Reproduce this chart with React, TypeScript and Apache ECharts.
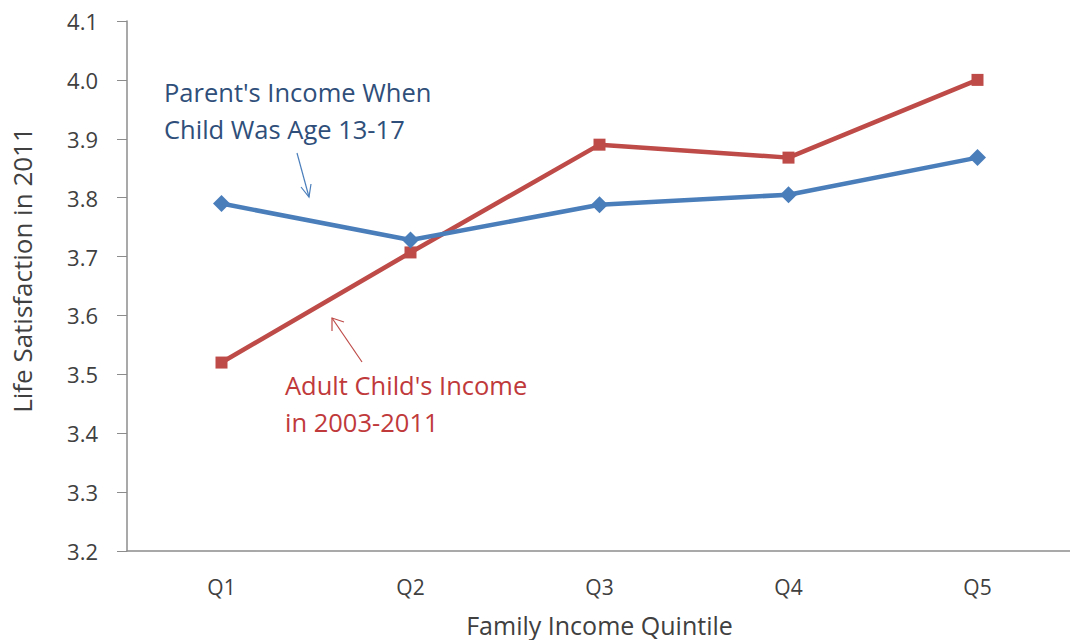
import React, { useEffect, useRef } from "react";
import * as echarts from "echarts";

const categories = ["Q1", "Q2", "Q3", "Q4", "Q5"];
const parentIncome = [3.79, 3.728, 3.788, 3.805, 3.868];
const childIncome = [3.52, 3.707, 3.89, 3.868, 4.0];
const yMin = 3.2;
const yMax = 4.1;
const yStep = 0.1;

const FONT = "Open Sans";
const BLUE = "#4a7ebb";
const RED = "#be4b48";

export default function App() {
  const ref = useRef<HTMLDivElement>(null);
  useEffect(() => {
    if (!ref.current) return;
    const chart = echarts.init(ref.current, null, { renderer: "svg" });
    chart.setOption({
      animation: false,
      backgroundColor: "#ffffff",
      textStyle: { fontFamily: FONT },
      grid: {
        left: 127,
        right: -2,
        top: 21,
        bottom: 89,
        containLabel: false,
        outerBoundsMode: "none",
      },
      xAxis: {
        type: "category",
        data: categories,
        boundaryGap: true,
        axisLine: { lineStyle: { color: "#8c8c8c", width: 1.5 } },
        axisTick: { show: false },
        axisLabel: { color: "#404040", fontSize: 21, fontFamily: FONT, margin: 25 },
        name: "Family Income Quintile",
        nameLocation: "middle",
        nameGap: 61,
        nameTextStyle: { color: "#404040", fontSize: 25, fontFamily: FONT },
      },
      yAxis: {
        type: "value",
        min: yMin,
        max: yMax,
        interval: yStep,
        splitLine: { show: false },
        axisLine: { show: true, lineStyle: { color: "#8c8c8c", width: 1.5 } },
        axisTick: { show: true, length: 10, inside: false, lineStyle: { color: "#8c8c8c" } },
        axisLabel: {
          color: "#404040",
          fontSize: 22,
          fontFamily: FONT,
          margin: 29,
          formatter: (v: number) => v.toFixed(1),
        },
      },
      series: [
        {
          name: "Parent's Income When Child Was Age 13-17",
          type: "line",
          data: parentIncome,
          symbol: "diamond",
          symbolSize: 17,
          lineStyle: { color: BLUE, width: 4.5 },
          itemStyle: { color: BLUE },
          z: 3,
        },
        {
          name: "Adult Child's Income in 2003-2011",
          type: "line",
          data: childIncome,
          symbol: "rect",
          symbolSize: 12,
          lineStyle: { color: RED, width: 4.5 },
          itemStyle: { color: RED },
          z: 2,
        },
      ],
      graphic: [
        {
          type: "text",
          x: 22,
          y: 270,
          rotation: Math.PI / 2,
          style: {
            text: "Life Satisfaction in 2011",
            fill: "#404040",
            font: `26px ${FONT}`,
            align: "center",
            verticalAlign: "middle",
          },
        },
        {
          type: "text",
          left: 164,
          top: 73,
          style: {
            text: "Parent's Income When\nChild Was Age 13-17",
            fill: "#2f4f7a",
            font: `25.5px ${FONT}`,
            lineHeight: 37,
          },
        },
        {
          type: "line",
          shape: { x1: 297, y1: 153, x2: 309, y2: 197 },
          style: { stroke: "#4a7ebb", lineWidth: 1.2 },
        },
        {
          type: "polyline",
          shape: { points: [[301, 187], [309, 197], [311, 184]] },
          style: { stroke: "#4a7ebb", lineWidth: 1.2, fill: null },
        },
        {
          type: "text",
          left: 285,
          top: 366,
          style: {
            text: "Adult Child's Income\nin 2003-2011",
            fill: "#c0393b",
            font: `25.5px ${FONT}`,
            lineHeight: 37,
          },
        },
        {
          type: "line",
          shape: { x1: 362, y1: 362, x2: 332, y2: 318 },
          style: { stroke: "#be4b48", lineWidth: 1.2 },
        },
        {
          type: "polyline",
          shape: { points: [[332, 331], [332, 318], [344, 322]] },
          style: { stroke: "#be4b48", lineWidth: 1.2, fill: null },
        },
      ],
    });
    return () => chart.dispose();
  }, []);
  return (
    <div
      ref={ref}
      style={{ position: "fixed", left: 0, top: 0, width: 1070, height: 640, background: "#fff" }}
    />
  );
}
